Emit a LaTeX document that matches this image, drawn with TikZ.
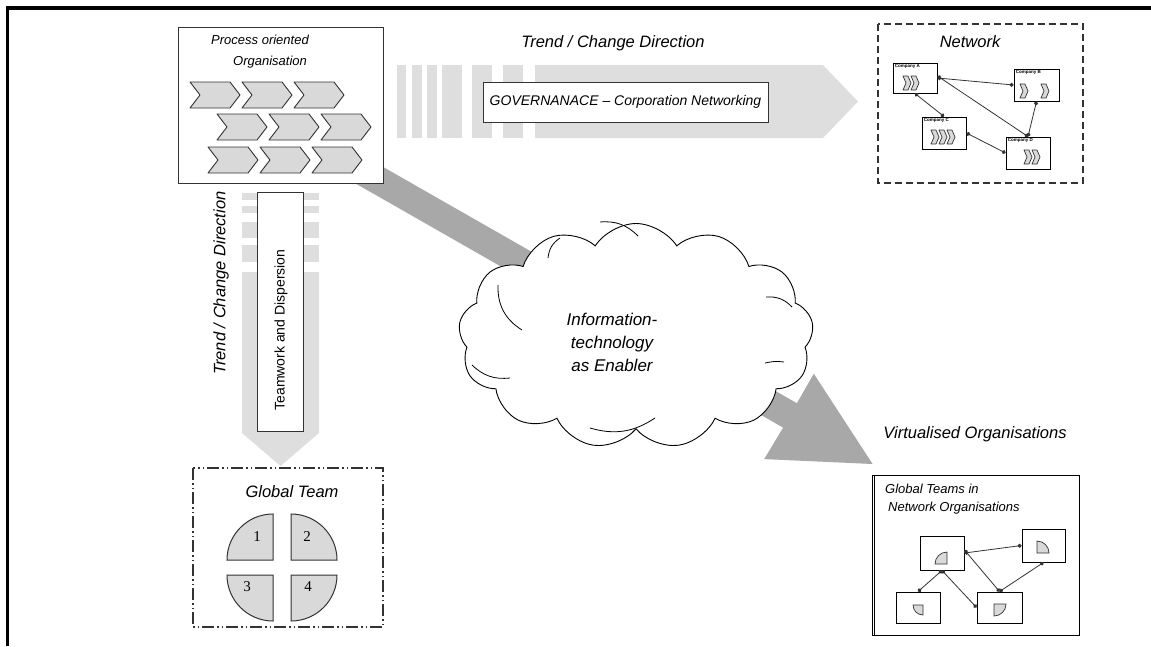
\documentclass[tikz,border=0pt]{standalone}
\usepackage{fontspec}
\setmainfont{Liberation Sans}
\newfontfamily\numfont{Liberation Serif}
\usetikzlibrary{shapes.symbols,arrows.meta}
\definecolor{bandlight}{HTML}{DEDEDE}
\definecolor{banddark}{HTML}{A8A8A8}
\definecolor{chevgray}{HTML}{D9D9D9}
\definecolor{edgegray}{HTML}{333333}
\tikzset{
  lbl/.style={font=\fontsize{16.5}{18}\selectfont\itshape, inner sep=0pt},
  smalllbl/.style={font=\fontsize{13}{15}\selectfont\itshape, inner sep=0pt},
  chevstyle/.style={draw=edgegray, fill=chevgray, line width=0.9pt, line join=round},
  boxstyle/.style={draw=edgegray, fill=white, line width=1pt},
  compbox/.style={draw=black, fill=white, line width=0.9pt, inner sep=0pt},
  complbl/.style={font=\fontsize{4.5}{5}\selectfont\bfseries, inner sep=0pt, anchor=north west},
  dotline/.style={draw=edgegray, line width=0.8pt, {Circle[length=4pt]}-{Circle[length=4pt]}},
  quart/.style={draw=edgegray, fill=chevgray, line width=1pt},
  cloudarc/.style={draw=black, line width=0.8pt},
  chevron/.pic={\draw[chevstyle] (0,0) -- (40,0) -- (50,13) -- (40,26) -- (0,26) -- (10,13) -- cycle;},
  minichev/.pic={\draw[chevstyle, line width=0.7pt] (0,0) -- (5,0) -- (8,7) -- (5,14) -- (0,14) -- (3,7) -- cycle;}
}
\begin{document}
\begin{tikzpicture}[x=1pt,y=-1pt]
\useasboundingbox (0,0) rectangle (1151,646);
% frame
\draw[line width=3.5pt] (1151,8) -- (7.5,8) -- (7.5,646);

% horizontal light band arrow
\foreach \a/\b in {397/406,412/422,427/437,442/462,472/492,503/523}
  \fill[bandlight] (\a,65) rectangle (\b,138);
\fill[bandlight] (535,65) -- (823,65) -- (858,101.5) -- (823,138) -- (535,138) -- cycle;

% vertical light band arrow
\foreach \a/\b in {193/200,206/213,222/238,245/262}
  \fill[bandlight] (242,\a) rectangle (319,\b);
\fill[bandlight] (242,272) -- (319,272) -- (319,433) -- (280.5,466) -- (242,433) -- cycle;

% diagonal dark band arrow
\fill[banddark] (353.1,182.1) -- (366.9,157.7) -- (796.9,403.2) -- (813.8,373.7) -- (872.6,464) -- (764.2,459.1) -- (783.1,427.6) -- cycle;

% top labels
\node[lbl] (trendH) at (613,43) {Trend / Change Direction};
\node[lbl, rotate=90] (trendV) at (221,283) {Trend / Change Direction};

% process oriented organisation
\node[boxstyle, minimum width=205, minimum height=156, inner sep=0pt] (proc) at (280.5,105) {};
\node[smalllbl] (procT1) at (260,40) {Process oriented};
\node[smalllbl] (procT2) at (270,62) {Organisation};
\foreach \i in {0,1,2} {
  \pic at ({190+52*\i},82) {chevron};
  \pic at ({217+52*\i},114) {chevron};
  \pic at ({208+52*\i},147) {chevron};
}

% governance box
\node[boxstyle, minimum width=285, minimum height=40, inner sep=0pt,
      font=\fontsize{14}{16}\selectfont\itshape] (gov) at (625.5,102) {GOVERNANACE -- Corporation Networking};

% teamwork box
\node[boxstyle, minimum width=46, minimum height=239, inner sep=0pt] (team) at (280,311.5) {};
\node[rotate=90, font=\fontsize{14}{16}\selectfont, inner sep=0pt] (teamT) at (281,330) {Teamwork and Dispersion};

% cloud
\node[cloud, cloud puffs=13, cloud puff arc=115, aspect=1.55, draw=black, fill=white, line width=0.9pt,
      minimum width=355, minimum height=225, inner sep=0pt] (cloud) at (636,336) {};
\draw[cloudarc] (548,258) to[bend left=25] (560,238);
\draw[cloudarc] (522,330) to[bend left=30] (498,285);
\draw[cloudarc] (600,222) to[bend left=25] (638,236);
\draw[cloudarc] (766,297) to[bend left=25] (792,307);
\draw[cloudarc] (765,363) to[bend left=10] (784,362);
\draw[cloudarc] (590,428) to[bend right=25] (655,418);
\draw[cloudarc] (472,365) to[bend right=25] (510,378);
\node[font=\fontsize{17}{23}\selectfont\itshape, align=center, inner sep=0pt] (cloudT) at (612,342)
  {Information-\\technology\\as Enabler};

% network box
\draw[draw=edgegray, line width=1.3pt, dash pattern=on 7pt off 4pt] (878,24) rectangle (1083,183);
\node[lbl] (netT) at (970,42) {Network};
\node[compbox, minimum width=44, minimum height=30] (nA) at (915,78) {};
\node[compbox, minimum width=45, minimum height=32] (nB) at (1036.5,85) {};
\node[compbox, minimum width=44, minimum height=32] (nC) at (944,133) {};
\node[compbox, minimum width=44, minimum height=32] (nD) at (1028,153) {};
\node[complbl] at ([shift={(2,2)}]nA.north west) {Company A};
\node[complbl] at ([shift={(2,2)}]nB.north west) {Company B};
\node[complbl] at ([shift={(2,2)}]nC.north west) {Company C};
\node[complbl] at ([shift={(2,2)}]nD.north west) {Company D};
\pic at (903,76) {minichev}; \pic at (911,76) {minichev};
\pic at (1020,84) {minichev}; \pic at (1041,84) {minichev};
\pic at (931,130) {minichev}; \pic at (939,130) {minichev}; \pic at (947,130) {minichev};
\pic at (1024,150) {minichev}; \pic at (1032,150) {minichev};
\draw[dotline] (nA.east) -- (nB.west);
\draw[dotline] (nA.south) -- (nC.north);
\draw[dotline] ([yshift=2]nA.east) -- (nD.north);
\draw[dotline] (nB.south) -- (nD.north);
\draw[dotline] (nC.east) -- (nD.west);

% global team
\draw[draw=edgegray, line width=1.2pt, dash pattern=on 12pt off 3pt on 1.5pt off 3pt on 1.5pt off 3pt] (193,468) rectangle (383,627);
\node[lbl] (gtT) at (292,492) {Global Team};
\draw[quart] (273,560) -- (227,560) arc[start angle=180, end angle=270, radius=46] -- cycle;
\draw[quart] (291,560) -- (291,514) arc[start angle=270, end angle=360, radius=46] -- cycle;
\draw[quart] (273,575) -- (227,575) arc[start angle=180, end angle=90, radius=46] -- cycle;
\draw[quart] (291,575) -- (337,575) arc[start angle=0, end angle=90, radius=46] -- cycle;
\node[font=\fontsize{15}{16}\selectfont\numfont, inner sep=0pt] (q1) at (257,537) {1};
\node[font=\fontsize{15}{16}\selectfont\numfont, inner sep=0pt] (q2) at (307,537) {2};
\node[font=\fontsize{15}{16}\selectfont\numfont, inner sep=0pt] (q3) at (247,587) {3};
\node[font=\fontsize{15}{16}\selectfont\numfont, inner sep=0pt] (q4) at (308,587) {4};

% virtualised organisations
\node[lbl] (virtT) at (975,434) {Virtualised Organisations};
\draw[draw=black, line width=1pt] (872,475) rectangle (1079,635);
\draw[draw=black, line width=1pt] (874.5,475) -- (874.5,635);
\node[smalllbl, anchor=west] (gtn1) at (885,489) {Global Teams in};
\node[smalllbl, anchor=west] (gtn2) at (888,508) {Network Organisations};
\node[compbox, minimum width=44, minimum height=34] (v1) at (942,553) {};
\node[compbox, minimum width=43, minimum height=33] (v2) at (1043.5,545.5) {};
\node[compbox, minimum width=44, minimum height=31] (v3) at (918,607.5) {};
\node[compbox, minimum width=45, minimum height=31] (v4) at (999.5,607.5) {};
\draw[quart, line width=0.7pt] (947,564) -- (935,564) arc[start angle=180, end angle=270, radius=12] -- cycle;
\draw[quart, line width=0.7pt] (1037,553) -- (1037,541) arc[start angle=270, end angle=360, radius=12] -- cycle;
\draw[quart, line width=0.7pt] (923,605) -- (913,605) arc[start angle=180, end angle=90, radius=10] -- cycle;
\draw[quart, line width=0.7pt] (994,604) -- (1006,604) arc[start angle=0, end angle=90, radius=12] -- cycle;
\draw[dotline] (v1.east) -- (v2.west);
\draw[dotline] (v1.south) -- (v3.north);
\draw[dotline] (v1.south) -- (v4.west);
\draw[dotline] ([yshift=3]v1.east) -- (v4.north);
\draw[dotline] (v2.south) -- (v4.north);
\end{tikzpicture}
\end{document}
